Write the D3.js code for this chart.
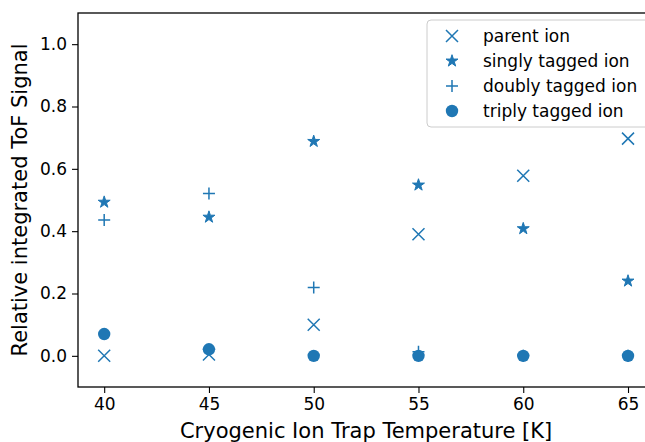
<!DOCTYPE html>
<html>
<head>
<meta charset="utf-8">
<script src="https://cdn.jsdelivr.net/npm/d3@7"></script>
<style>
  html, body { margin: 0; padding: 0; background: #fff; }
  svg { display: block; font-family: "DejaVu Sans", sans-serif; }
</style>
</head>
<body>
<svg id="chart" width="645" height="442"></svg>
<script>
// Trap temperatures (K)
const temperatures = [40, 45, 50, 55, 60, 65];

// Relative integrated ToF signal per ion species
const parentIon   = [0.00, 0.004, 0.10, 0.39, 0.578, 0.697];
const singlyTagged = [0.493, 0.445, 0.688, 0.548, 0.408, 0.24];
const doublyTagged = [0.436, 0.521, 0.219, 0.013, 0.0, 0.0];
const triplyTagged = [0.07, 0.021, 0.0, 0.0, 0.0, 0.0];

const seriesNames = ["parent ion", "singly tagged ion", "doubly tagged ion", "triply tagged ion"];
const seriesValues = [parentIon, singlyTagged, doublyTagged, triplyTagged];
const markerKinds = ["x", "star", "plus", "circle"];

const yTicks = [0.0, 0.2, 0.4, 0.6, 0.8, 1.0];
const xTicks = [40, 45, 50, 55, 60, 65];

const color = "#1f77b4";
const svg = d3.select("#chart");

const margin = { left: 78, top: 13, bottom: 387 };
const x = d3.scaleLinear().domain([38.75, 66.25]).range([margin.left, 654.2]);
const y = d3.scaleLinear().domain([-0.1, 1.1]).range([margin.bottom, margin.top]);

// marker outline generators (centered at origin)
function starPath(r) {
  const inner = r * 0.381966;
  const pts = [];
  for (let i = 0; i < 10; i++) {
    const a = -Math.PI / 2 + i * Math.PI / 5;
    const rr = i % 2 === 0 ? r : inner;
    pts.push([rr * Math.cos(a), rr * Math.sin(a)]);
  }
  return "M" + pts.map(p => p[0].toFixed(2) + "," + p[1].toFixed(2)).join("L") + "Z";
}
function drawMarker(g, kind, cx, cy) {
  const s = 6;
  if (kind === "x") {
    g.append("path")
      .attr("d", `M${cx - s},${cy - s}L${cx + s},${cy + s}M${cx - s},${cy + s}L${cx + s},${cy - s}`)
      .attr("stroke", color).attr("stroke-width", 1.5).attr("fill", "none");
  } else if (kind === "plus") {
    g.append("path")
      .attr("d", `M${cx - s},${cy}L${cx + s},${cy}M${cx},${cy - s}L${cx},${cy + s}`)
      .attr("stroke", color).attr("stroke-width", 1.5).attr("fill", "none");
  } else if (kind === "star") {
    g.append("path")
      .attr("d", starPath(6.3))
      .attr("transform", `translate(${cx},${cy})`)
      .attr("fill", color).attr("stroke", color).attr("stroke-width", 1).attr("stroke-linejoin", "round");
  } else {
    g.append("circle").attr("cx", cx).attr("cy", cy).attr("r", 6.2).attr("fill", color);
  }
}

// axes
const xAxis = d3.axisBottom(x).tickValues(xTicks).tickFormat(d3.format("d")).tickSizeOuter(0).tickSize(6).tickPadding(5);
const yAxis = d3.axisLeft(y).tickValues(yTicks).tickFormat(d3.format(".1f")).tickSizeOuter(0).tickSize(6).tickPadding(5);

const gx = svg.append("g").attr("transform", `translate(0,${margin.bottom})`).call(xAxis);
const gy = svg.append("g").attr("transform", `translate(${margin.left},0)`).call(yAxis);
[gx, gy].forEach(g => {
  g.selectAll("text").attr("font-size", 17).attr("fill", "#000").attr("font-family", "DejaVu Sans");
  g.selectAll("line").attr("stroke", "#000").attr("stroke-width", 1.1);
  g.select(".domain").remove();
});

// spines
svg.append("rect")
  .attr("x", margin.left).attr("y", margin.top)
  .attr("width", x.range()[1] - margin.left).attr("height", margin.bottom - margin.top)
  .attr("fill", "none").attr("stroke", "#000").attr("stroke-width", 1.3);

// data markers
const plot = svg.append("g");
seriesValues.forEach((vals, si) => {
  vals.forEach((v, i) => drawMarker(plot, markerKinds[si], x(temperatures[i]), y(v)));
});

// axis titles
svg.append("text")
  .attr("x", (margin.left + x.range()[1]) / 2).attr("y", 438)
  .attr("text-anchor", "middle").attr("font-size", 21)
  .text("Cryogenic Ion Trap Temperature [K]");
svg.append("text")
  .attr("transform", `translate(27,${(margin.top + margin.bottom) / 2}) rotate(-90)`)
  .attr("text-anchor", "middle").attr("font-size", 21)
  .text("Relative integrated ToF Signal");

// legend
const legend = svg.append("g");
legend.append("rect")
  .attr("x", 427).attr("y", 20).attr("width", 240).attr("height", 107).attr("rx", 4)
  .attr("fill", "#fff").attr("fill-opacity", 0.8).attr("stroke", "#ccc").attr("stroke-width", 1);
seriesNames.forEach((name, i) => {
  const cy = 36 + i * 25;
  drawMarker(legend, markerKinds[i], 452, cy);
  legend.append("text").attr("x", 483).attr("y", cy + 6).attr("font-size", 17).text(name);
});
</script>
</body>
</html>
